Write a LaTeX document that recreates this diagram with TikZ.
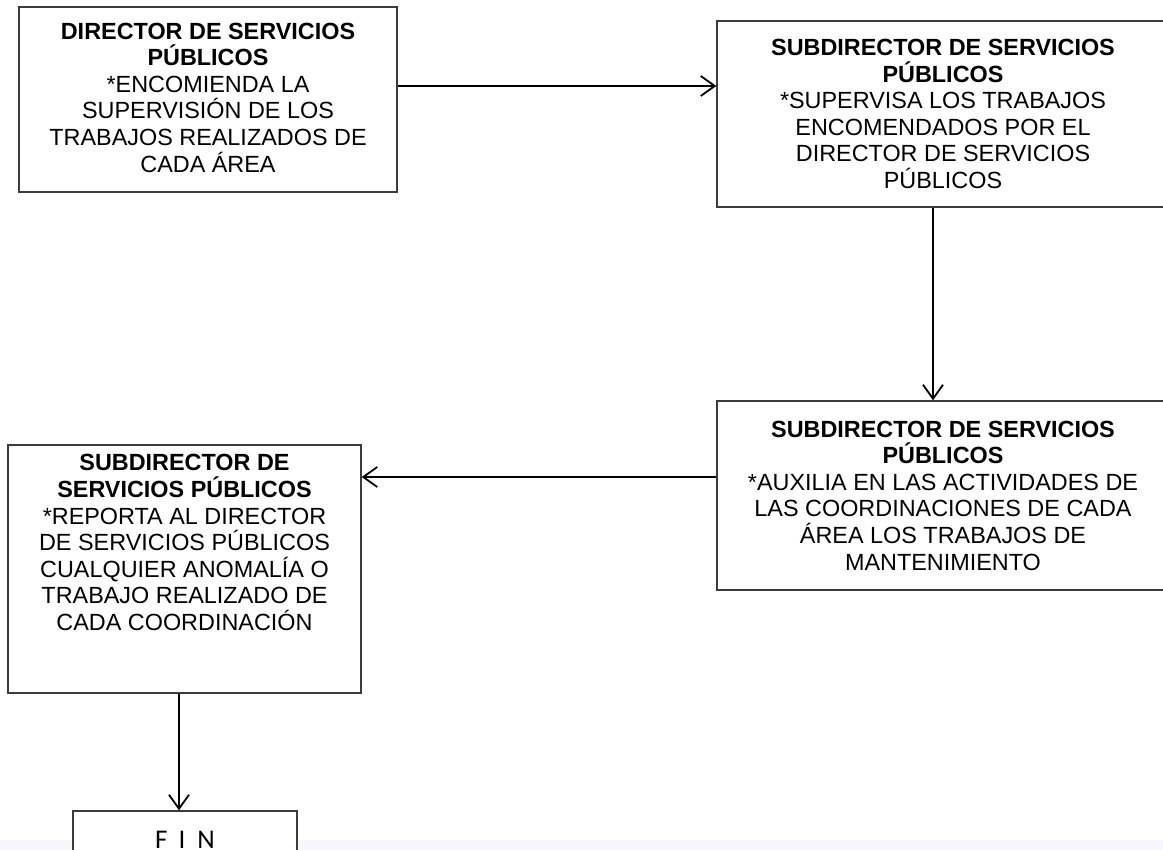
\documentclass[tikz,border=0pt]{standalone}
\usepackage{fontspec}
\setmainfont{Liberation Sans}
\newfontfamily\finfont{Carlito}
\usetikzlibrary{arrows.meta}
\definecolor{boxline}{RGB}{60,60,60}
\definecolor{bandgray}{RGB}{246,247,250}
\begin{document}
\begin{tikzpicture}[x=1pt,y=-1pt,
  flowbox/.style={draw=boxline,line width=1.4pt,fill=white,rectangle,inner sep=0pt},
  boxtext/.style={align=center,inner sep=0pt,font=\fontsize{23.4}{26.6}\selectfont},
  conn/.style={draw=black,line width=2.4pt,-{Straight Barb[length=14pt,width=20pt,line width=1.8pt]}}]
\useasboundingbox (0,0) rectangle (1163,850);
\clip (0,0) rectangle (1163,850);
\fill[bandgray] (0,840) rectangle (1163,850);

% process boxes
\node[flowbox,minimum width=378pt,minimum height=185pt] (b1) at (208,99.5) {};
\node[boxtext] (t1) at ([yshift=2pt]b1.center) {\textbf{DIRECTOR DE SERVICIOS}\\\textbf{PÚBLICOS}\\*ENCOMIENDA LA\\SUPERVISIÓN DE LOS\\TRABAJOS REALIZADOS DE\\CADA ÁREA};

\node[flowbox,minimum width=452pt,minimum height=186pt] (b2) at (943,114) {};
\node[boxtext] (t2) at (b2.center) {\textbf{SUBDIRECTOR DE SERVICIOS}\\\textbf{PÚBLICOS}\\*SUPERVISA LOS TRABAJOS\\ENCOMENDADOS POR EL\\DIRECTOR DE SERVICIOS\\PÚBLICOS};

\node[flowbox,minimum width=452pt,minimum height=189pt] (b3) at (943,495.5) {};
\node[boxtext] (t3) at (b3.center) {\textbf{SUBDIRECTOR DE SERVICIOS}\\\textbf{PÚBLICOS}\\*AUXILIA EN LAS ACTIVIDADES DE\\LAS COORDINACIONES DE CADA\\ÁREA LOS TRABAJOS DE\\MANTENIMIENTO};

\node[flowbox,minimum width=353pt,minimum height=248pt] (b4) at (184.5,569) {};
\node[boxtext,anchor=north] (t4) at ([yshift=-10pt]b4.north) {\textbf{SUBDIRECTOR DE}\\\textbf{SERVICIOS PÚBLICOS}\\*REPORTA AL DIRECTOR\\DE SERVICIOS PÚBLICOS\\CUALQUIER ANOMALÍA O\\TRABAJO REALIZADO DE\\CADA COORDINACIÓN};

% end box
\node[flowbox,minimum width=224pt,minimum height=80pt] (b5) at (185,851) {};
\node[anchor=north,inner sep=0pt,font=\finfont\fontsize{27}{30}\selectfont] (t5) at ([yshift=-21pt]b5.north) {F\hspace{11pt}I\hspace{12pt}N};

% connectors
\draw[conn] ([yshift=13.5pt]b1.east) -- ([yshift=13.5pt]b1.east -| b2.west);
\draw[conn] ([xshift=-10pt]b2.south) -- ([xshift=-10pt]b2.south |- b3.north);
\draw[conn] ([yshift=18.5pt]b3.west) -- ([yshift=18.5pt]b3.west -| b4.east);
\draw[conn] ([xshift=-5.5pt]b4.south) -- ([xshift=-5.5pt]b4.south |- b5.north);
\end{tikzpicture}
\end{document}
